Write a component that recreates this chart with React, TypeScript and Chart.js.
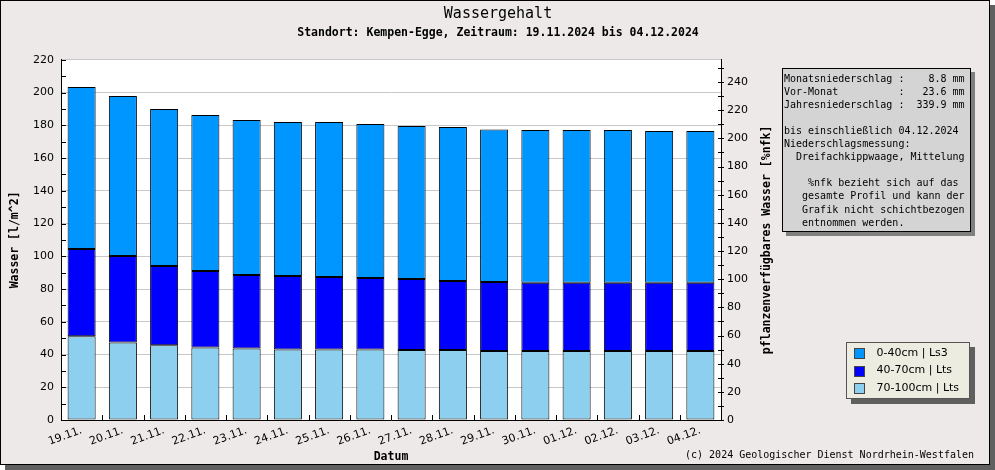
import React, { useEffect, useRef } from "react";
import { Chart, registerables } from "chart.js";

Chart.register(...registerables);

// ---- data ----
const dates = [
  "19.11.", "20.11.", "21.11.", "22.11.", "23.11.", "24.11.", "25.11.", "26.11.",
  "27.11.", "28.11.", "29.11.", "30.11.", "01.12.", "02.12.", "03.12.", "04.12.",
];
// water content per layer in l/m^2 (stacked bottom -> top)
const layer70to100 = [51.1, 47.4, 45.6, 44.3, 43.7, 43.1, 43.1, 43.1, 42.7, 42.7, 42.1, 42.1, 42.1, 42.1, 42.1, 42.1];
const layer40to70 = [53.3, 52.8, 48.4, 46.7, 44.8, 44.8, 44.2, 43.6, 43.4, 42.2, 42.2, 41.7, 41.7, 41.7, 41.7, 41.7];
const layer0to40 = [99.0, 97.7, 95.9, 95.3, 94.7, 94.1, 94.7, 94.1, 93.4, 94.0, 93.2, 93.3, 93.3, 93.3, 92.7, 92.7];

const seriesLabels = ["70-100cm | Lts", "40-70cm | Lts", "0-40cm | Ls3"];
const seriesColors = ["#8CCFEE", "#0000FF", "#0096FF"];

const leftMax = 220;
const rightMax = 255.8;
const tickStep = 20;
const minorStep = 10;

const titleText = "Wassergehalt";
const subtitleText = "Standort: Kempen-Egge, Zeitraum: 19.11.2024 bis 04.12.2024";
const leftAxisTitle = "Wasser [l/m^2]";
const rightAxisTitle = "pflanzenverfügbares Wasser [%nfk]";
const xAxisTitle = "Datum";
const copyrightText = "(c) 2024 Geologischer Dienst Nordrhein-Westfalen";
const infoLines = [
  "Monatsniederschlag :    8.8 mm",
  "Vor-Monat          :   23.6 mm",
  "Jahresniederschlag :  339.9 mm",
  "",
  "bis einschließlich 04.12.2024",
  "Niederschlagsmessung:",
  "  Dreifachkippwaage, Mittelung",
  "",
  "    %nfk bezieht sich auf das",
  "   gesamte Profil und kann der",
  "   Grafik nicht schichtbezogen",
  "   entnommen werden.",
];

const MONO = '"DejaVu Sans Mono", monospace';
const SANS = '"DejaVu Sans", sans-serif';

const decorPlugin = {
  id: "decor",
  afterDraw(chart: any) {
    const ctx = chart.ctx as CanvasRenderingContext2D;
    const { left, right, top, bottom } = chart.chartArea;
    const yL = chart.scales.y;
    const yR = chart.scales.y2;
    const xs = chart.scales.x;
    ctx.save();

    // tick marks
    ctx.strokeStyle = "#000";
    ctx.lineWidth = 1;
    ctx.beginPath();
    for (let v = 0; v <= leftMax; v += minorStep) {
      const py = Math.round(yL.getPixelForValue(v)) + 0.5;
      ctx.moveTo(left, py);
      ctx.lineTo(left + 5, py);
    }
    for (let v = 0; v <= rightMax; v += minorStep) {
      const py = Math.round(yR.getPixelForValue(v)) + 0.5;
      ctx.moveTo(right - 3, py);
      ctx.lineTo(right + 3, py);
    }
    for (let i = 0; i < dates.length - 1; i++) {
      const px = Math.round((xs.getPixelForValue(i) + xs.getPixelForValue(i + 1)) / 2) + 0.5;
      ctx.moveTo(px, bottom);
      ctx.lineTo(px, bottom - 5);
    }
    ctx.stroke();

    // right axis title (reads bottom to top)
    ctx.save();
    ctx.translate(766, (top + bottom) / 2);
    ctx.rotate(-Math.PI / 2);
    ctx.font = `bold 11.5px ${MONO}`;
    ctx.fillStyle = "#000";
    ctx.textAlign = "center";
    ctx.textBaseline = "middle";
    ctx.fillText(rightAxisTitle, 0, 0);
    ctx.restore();

    // info box
    const bx = 781, by = 67, bw = 189, bh = 164;
    ctx.fillStyle = "#808080";
    ctx.fillRect(bx + 4, by + 4, bw, bh);
    ctx.fillStyle = "#D4D4D4";
    ctx.fillRect(bx, by, bw, bh);
    ctx.strokeStyle = "#000";
    ctx.strokeRect(bx + 0.5, by + 0.5, bw - 1, bh - 1);
    ctx.font = `10px ${MONO}`;
    ctx.fillStyle = "#000";
    ctx.textAlign = "left";
    ctx.textBaseline = "middle";
    infoLines.forEach((l, i) => ctx.fillText(l, 783, 78 + i * 13.1));

    // legend box
    const lx = 845, ly = 341, lw = 124, lh = 57;
    ctx.fillStyle = "#606060";
    ctx.fillRect(lx + 5, ly + 5, lw, lh);
    ctx.fillStyle = "#ECECE1";
    ctx.fillRect(lx, ly, lw, lh);
    ctx.strokeStyle = "#555";
    ctx.strokeRect(lx + 0.5, ly + 0.5, lw - 1, lh - 1);
    const ds = chart.data.datasets;
    ctx.font = `11px ${SANS}`;
    ctx.textBaseline = "middle";
    for (let k = 0; k < ds.length; k++) {
      const d = ds[ds.length - 1 - k];
      const cy = 351.7 + k * 17.8;
      ctx.fillStyle = d.backgroundColor;
      ctx.fillRect(853, Math.round(cy - 5), 11, 11);
      ctx.strokeStyle = "#444";
      ctx.strokeRect(853.5, Math.round(cy - 5) + 0.5, 10, 10);
      ctx.fillStyle = "#000";
      ctx.fillText(d.label, 875.5, cy);
    }

    // copyright
    ctx.font = `10px ${MONO}`;
    ctx.textAlign = "right";
    ctx.fillStyle = "#000";
    ctx.fillText(copyrightText, 973, 454.5);

    ctx.restore();
  },
};

const plotBgPlugin = {
  id: "plotBg",
  beforeDraw(chart: any) {
    const { left, right, top, bottom } = chart.chartArea;
    const ctx = chart.ctx;
    ctx.save();
    ctx.fillStyle = "#FFFFFF";
    ctx.fillRect(left, top, right - left, bottom - top);
    ctx.restore();
  },
};

export default function App() {
  const ref = useRef<HTMLCanvasElement | null>(null);

  useEffect(() => {
    if (!ref.current) return;
    Chart.defaults.color = "#000";
    const chart = new Chart(ref.current, {
      type: "bar",
      data: {
        labels: dates,
        datasets: [layer70to100, layer40to70, layer0to40].map((arr, i) => ({
          label: seriesLabels[i],
          data: arr,
          backgroundColor: seriesColors[i],
          borderColor: "#000",
          borderWidth: 1,
          borderSkipped: false,
          categoryPercentage: 1,
          barPercentage: 0.68,
          yAxisID: "y",
        })),
      },
      options: {
        responsive: false,
        animation: false,
        layout: { padding: { left: 6, right: 0, top: 0, bottom: 0 } },
        plugins: {
          legend: { display: false },
          tooltip: { enabled: false },
          title: {
            display: true,
            text: titleText,
            color: "#000",
            font: { family: MONO, size: 15, weight: "normal" },
            padding: { top: 4, bottom: 2 },
          },
          subtitle: {
            display: true,
            text: subtitleText,
            color: "#000",
            font: { family: MONO, size: 11.5, weight: "bold" },
            padding: { top: 1, bottom: 20 },
          },
        },
        scales: {
          x: {
            type: "category",
            stacked: true,
            offset: true,
            grid: { display: false, drawTicks: false },
            border: { display: true, color: "#000", width: 1 },
            ticks: {
              autoSkip: false,
              minRotation: 20,
              maxRotation: 20,
              padding: 4,
              color: "#000",
              font: { family: SANS, size: 11 },
            },
            title: {
              display: true,
              text: xAxisTitle,
              color: "#000",
              font: { family: MONO, size: 11.5, weight: "bold" },
              padding: { top: 0, bottom: 0 },
            },
            afterFit: (s: any) => {
              s.height = 44;
            },
          },
          y: {
            type: "linear",
            position: "left",
            stacked: true,
            min: 0,
            max: leftMax,
            ticks: {
              stepSize: minorStep,
              padding: 7,
              color: "#000",
              font: { family: SANS, size: 11 },
              callback: (v: any) => (Number(v) % tickStep === 0 ? String(v) : ""),
            },
            grid: {
              drawTicks: false,
              color: (c: any) =>
                c.tick && Number(c.tick.value) % tickStep === 0 ? "#C8C8C8" : "rgba(0,0,0,0)",
              lineWidth: 1,
            },
            border: { display: true, color: "#000", width: 1 },
            title: {
              display: true,
              text: leftAxisTitle,
              color: "#000",
              font: { family: MONO, size: 11.5, weight: "bold" },
              padding: { top: 1, bottom: 0 },
            },
            afterFit: (s: any) => {
              s.width = 54;
            },
          },
          y2: {
            type: "linear",
            position: "right",
            min: 0,
            max: rightMax,
            ticks: {
              stepSize: minorStep,
              padding: 6,
              color: "#000",
              font: { family: SANS, size: 11 },
              callback: (v: any) =>
                Number(v) % tickStep === 0 && Number(v) <= 240 ? String(v) : "",
            },
            grid: { display: false, drawTicks: false, drawOnChartArea: false },
            border: { display: true, color: "#000", width: 1 },
            afterFit: (s: any) => {
              s.width = 268;
            },
          },
        },
      },
      plugins: [plotBgPlugin, decorPlugin],
    } as any);
    return () => chart.destroy();
  }, []);

  return (
    <div
      style={{
        position: "absolute",
        left: 0,
        top: 0,
        width: 988,
        height: 463,
        border: "1px solid #000",
        boxShadow: "5px 5px 0 #606060",
        background: "#ECE9E8",
      }}
    >
      <canvas ref={ref} width={988} height={463} style={{ display: "block" }} />
    </div>
  );
}
